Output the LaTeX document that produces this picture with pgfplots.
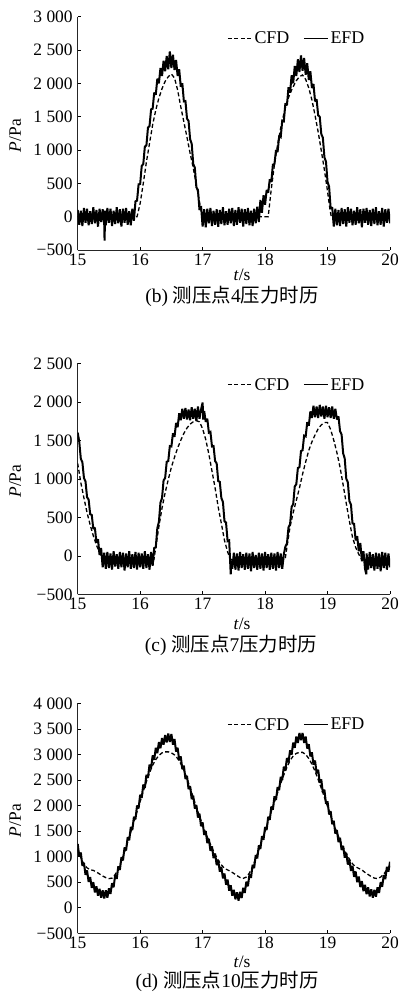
\documentclass[border=0pt]{standalone}
\usepackage{fontspec}
\setmainfont{Liberation Serif}
\newfontfamily\cjk{Noto Sans CJK SC}
\usepackage{pgfplots}
\pgfplotsset{compat=1.18}
\newcommand\ts{\kern0.25em}
\pgfplotsset{
  panel/.style={
    scale only axis, width=312.3bp,
    axis lines*=left,
    xmin=15, xmax=20,
    xtick={15,16,17,18,19,20},
    tick align=inside,
    major tick length=3bp,
    tick style={black, line width=0.5bp},
    axis line style={line width=0.7bp, black!85},
    tick label style={font=\fontsize{17.5}{19}\selectfont},
    yticklabel style={xshift=-1.5bp},
    label style={font=\fontsize{17.5}{19}\selectfont},
    /pgf/number format/assume math mode=true,
    legend style={draw=none, fill=none, font=\fontsize{18}{19}\selectfont,
      legend columns=2, inner sep=0pt,
      /tikz/every even column/.append style={column sep=12bp},
      at={(0.925,0.945)}, anchor=north east},
    legend image code/.code={\draw[##1, line width=1.1bp] (0bp,0bp) -- (24bp,0bp);},
    xlabel={\textit{t}/s},
    ylabel={\textit{P}/Pa},
    ylabel style={at={(axis description cs:-0.2,0.49)}, anchor=center},
  },
  cfd/.style={black, line width=1.3bp, dash pattern=on 4bp off 2.5bp},
  efd/.style={black, line width=2.0bp, line join=miter, miter limit=2},
}
\begin{document}
\begin{tikzpicture}
\useasboundingbox (0bp,0bp) rectangle (401bp,998bp);
\begin{pgfinterruptboundingbox}
% ---------------- (b) ----------------
\begin{axis}[panel, at={(77.7bp,748bp)}, anchor=south west, height=233.3bp,
  ymin=-500, ymax=3000, ytick={-500,0,500,1000,1500,2000,2500,3000},
  yticklabels={−500,0,500,1\ts000,1\ts500,2\ts000,2\ts500,3\ts000},
  xlabel style={at={(axis description cs:0.526,-0.107)}, anchor=center}]
\addplot[cfd] coordinates {(15,0)(15.95,0)(16.0,200)(16.05,500)(16.1,820)(16.15,1100)(16.2,1380)(16.25,1600)(16.3,1780)(16.35,1920)(16.4,2030)(16.45,2100)(16.5,2140)(16.55,2080)(16.6,1900)(16.65,1650)(16.7,1420)(16.75,1190)(16.8,950)(16.85,730)(16.9,480)(16.95,220)(17.0,0)(18.05,0)(18.1,420)(18.15,780)(18.2,1080)(18.25,1330)(18.3,1540)(18.35,1720)(18.4,1850)(18.45,1950)(18.5,2040)(18.55,2100)(18.6,2125)(18.65,2060)(18.7,1930)(18.75,1750)(18.8,1520)(18.85,1270)(18.9,990)(18.95,700)(19.0,380)(19.04,100)(19.06,0)(20,0)};
\addlegendentry{CFD}
\addplot[efd] coordinates {(15.000,100)(15.025,-120)(15.050,90)(15.075,-140)(15.100,130)(15.125,-90)(15.150,120)(15.175,-130)(15.200,80)(15.225,-110)(15.250,140)(15.275,-100)(15.300,100)(15.325,-150)(15.350,120)(15.375,-80)(15.400,110)(15.425,-120)(15.430,-360)(15.440,90)(15.450,-130)(15.475,130)(15.500,-90)(15.525,120)(15.550,-140)(15.575,90)(15.600,-110)(15.625,140)(15.650,-100)(15.675,110)(15.700,-150)(15.725,120)(15.750,-90)(15.775,130)(15.800,-120)(15.825,80)(15.850,-130)(15.875,120)(15.900,-60)(15.925,230)(15.950,240)(15.975,485)(16.000,490)(16.025,760)(16.050,790)(16.075,1050)(16.100,1070)(16.125,1335)(16.150,1360)(16.175,1610)(16.200,1620)(16.225,1860)(16.250,1830)(16.275,2070)(16.300,2000)(16.325,2230)(16.350,2110)(16.375,2340)(16.400,2180)(16.425,2410)(16.450,2210)(16.475,2480)(16.500,2230)(16.525,2430)(16.550,2200)(16.575,2350)(16.600,2110)(16.625,2210)(16.650,1950)(16.675,2000)(16.700,1730)(16.725,1735)(16.750,1470)(16.775,1435)(16.800,1160)(16.825,1095)(16.850,790)(16.875,735)(16.900,440)(16.925,400)(16.950,100)(16.975,160)(17.000,-150)(17.025,110)(17.050,-160)(17.075,120)(17.100,-100)(17.125,130)(17.150,-140)(17.175,90)(17.200,-120)(17.225,110)(17.250,-150)(17.275,100)(17.300,-110)(17.325,140)(17.350,-130)(17.375,80)(17.400,-120)(17.425,120)(17.450,-100)(17.475,130)(17.500,-140)(17.525,100)(17.550,-120)(17.575,140)(17.600,-90)(17.625,120)(17.650,-150)(17.675,110)(17.700,-110)(17.725,130)(17.750,-130)(17.775,90)(17.800,-140)(17.825,120)(17.850,-100)(17.875,150)(17.900,-80)(17.925,250)(17.950,60)(17.975,320)(18.000,180)(18.025,400)(18.050,360)(18.075,560)(18.100,520)(18.125,780)(18.150,790)(18.175,1000)(18.200,970)(18.225,1200)(18.250,1190)(18.275,1440)(18.300,1430)(18.325,1700)(18.350,1670)(18.375,1940)(18.400,1860)(18.425,2120)(18.450,2000)(18.475,2260)(18.500,2110)(18.525,2360)(18.550,2170)(18.575,2420)(18.600,2190)(18.625,2380)(18.650,2130)(18.675,2300)(18.700,2050)(18.725,2180)(18.750,1930)(18.775,1990)(18.800,1730)(18.825,1760)(18.850,1520)(18.875,1500)(18.900,1240)(18.925,1185)(18.950,890)(18.975,825)(19.000,520)(19.025,450)(19.050,120)(19.075,140)(19.100,-150)(19.125,120)(19.150,-130)(19.175,100)(19.200,-140)(19.225,130)(19.250,-110)(19.275,110)(19.300,-150)(19.325,140)(19.350,-90)(19.375,120)(19.400,-130)(19.425,90)(19.450,-120)(19.475,140)(19.500,-100)(19.525,110)(19.550,-160)(19.575,120)(19.600,-90)(19.625,130)(19.650,-120)(19.675,100)(19.700,-140)(19.725,120)(19.750,-110)(19.775,140)(19.800,-130)(19.825,80)(19.850,-120)(19.875,130)(19.900,-150)(19.925,110)(19.950,-90)(19.975,120)(20.000,-100)};
\addlegendentry{EFD}
\end{axis}
\node[font=\fontsize{19.5}{21}\selectfont] at (232bp,701.3bp) {(b) {\cjk 测压点}4{\cjk 压力时历}};
% ---------------- (c) ----------------
\begin{axis}[panel, at={(77.7bp,403.7bp)}, anchor=south west, height=231bp,
  ymin=-500, ymax=2500, ytick={-500,0,500,1000,1500,2000,2500},
  yticklabels={−500,0,500,1\ts000,1\ts500,2\ts000,2\ts500},
  xlabel style={at={(axis description cs:0.526,-0.13)}, anchor=center}]
\addplot[cfd] coordinates {(15,1200)(15.05,950)(15.1,750)(15.15,560)(15.2,400)(15.25,260)(15.3,140)(15.35,40)(15.4,-50)(16.22,-50)(16.3,380)(16.35,620)(16.4,820)(16.45,990)(16.5,1150)(16.55,1280)(16.6,1400)(16.65,1500)(16.7,1590)(16.75,1660)(16.8,1710)(16.85,1740)(16.9,1755)(16.95,1740)(17.0,1650)(17.05,1510)(17.1,1320)(17.15,1100)(17.2,880)(17.25,630)(17.3,420)(17.35,200)(17.4,50)(17.45,-50)(18.32,-50)(18.4,380)(18.45,560)(18.5,720)(18.55,880)(18.6,1060)(18.65,1220)(18.7,1370)(18.75,1480)(18.8,1570)(18.85,1650)(18.9,1700)(18.95,1730)(19.0,1730)(19.05,1640)(19.1,1500)(19.15,1340)(19.2,1150)(19.25,920)(19.3,680)(19.35,450)(19.4,240)(19.45,110)(19.5,20)(19.55,-50)(20,-50)};
\addlegendentry{CFD}
\addplot[efd] coordinates {(15.000,1600)(15.025,1480)(15.050,1260)(15.075,1215)(15.100,1010)(15.125,965)(15.150,760)(15.175,730)(15.200,540)(15.225,530)(15.250,350)(15.275,365)(15.300,170)(15.325,215)(15.350,10)(15.375,100)(15.400,-150)(15.425,40)(15.450,-170)(15.475,50)(15.500,-160)(15.525,30)(15.550,-180)(15.575,60)(15.600,-140)(15.625,20)(15.650,-170)(15.675,50)(15.700,-150)(15.725,40)(15.750,-190)(15.775,30)(15.800,-150)(15.825,60)(15.850,-170)(15.875,20)(15.900,-160)(15.925,50)(15.950,-180)(15.975,40)(16.000,-150)(16.025,30)(16.050,-170)(16.075,60)(16.100,-160)(16.125,20)(16.150,-180)(16.175,50)(16.200,-130)(16.225,100)(16.250,110)(16.275,360)(16.300,440)(16.325,690)(16.350,750)(16.375,980)(16.400,1010)(16.425,1220)(16.450,1230)(16.475,1425)(16.500,1420)(16.525,1590)(16.550,1545)(16.575,1725)(16.600,1670)(16.625,1850)(16.650,1760)(16.675,1910)(16.700,1780)(16.725,1920)(16.750,1770)(16.775,1900)(16.800,1760)(16.825,1930)(16.850,1780)(16.875,1910)(16.900,1750)(16.925,1940)(16.950,1780)(16.975,1900)(17.000,1990)(17.010,1770)(17.025,1880)(17.050,1740)(17.075,1780)(17.100,1600)(17.125,1610)(17.150,1420)(17.175,1425)(17.200,1230)(17.225,1200)(17.250,970)(17.275,960)(17.300,750)(17.325,700)(17.350,450)(17.375,430)(17.400,190)(17.425,200)(17.450,-240)(17.460,-60)(17.475,-170)(17.500,40)(17.525,-180)(17.550,30)(17.575,-190)(17.600,50)(17.625,-160)(17.650,20)(17.675,-180)(17.700,40)(17.725,-170)(17.750,30)(17.775,-200)(17.800,50)(17.825,-160)(17.850,10)(17.875,-180)(17.900,40)(17.925,-170)(17.950,30)(17.975,-190)(18.000,50)(18.025,-160)(18.050,20)(18.075,-180)(18.100,40)(18.125,-170)(18.150,30)(18.175,-190)(18.200,50)(18.225,-160)(18.250,30)(18.275,-170)(18.300,20)(18.325,120)(18.350,160)(18.375,370)(18.400,410)(18.425,635)(18.450,670)(18.475,900)(18.500,930)(18.525,1140)(18.550,1150)(18.575,1360)(18.600,1370)(18.625,1560)(18.650,1550)(18.675,1735)(18.700,1690)(18.725,1875)(18.750,1790)(18.775,1950)(18.800,1800)(18.825,1940)(18.850,1790)(18.875,1960)(18.900,1810)(18.925,1940)(18.950,1780)(18.975,1950)(19.000,1800)(19.025,1930)(19.050,1790)(19.075,1940)(19.100,1780)(19.125,1910)(19.150,1770)(19.175,1810)(19.200,1620)(19.225,1575)(19.250,1330)(19.275,1265)(19.300,1000)(19.325,955)(19.350,710)(19.375,665)(19.400,420)(19.425,415)(19.450,200)(19.475,255)(19.500,60)(19.525,165)(19.550,-70)(19.575,60)(19.600,-170)(19.620,-240)(19.625,30)(19.650,-180)(19.675,50)(19.700,-160)(19.725,20)(19.750,-190)(19.775,40)(19.800,-170)(19.825,30)(19.850,-200)(19.875,50)(19.900,-160)(19.925,40)(19.950,-180)(19.975,30)(20.000,-150)};
\addlegendentry{EFD}
\end{axis}
\node[font=\fontsize{19.5}{21}\selectfont] at (231bp,353bp) {(c) {\cjk 测压点}7{\cjk 压力时历}};
% ---------------- (d) ----------------
\begin{axis}[panel, at={(77.7bp,64.7bp)}, anchor=south west, height=230bp,
  ymin=-500, ymax=4000, ytick={-500,0,500,1000,1500,2000,2500,3000,3500,4000},
  yticklabels={−500,0,500,1\ts000,1\ts500,2\ts000,2\ts500,3\ts000,3\ts500,4\ts000},
  xlabel style={at={(axis description cs:0.526,-0.122)}, anchor=center}]
\addplot[cfd] coordinates {(15.0,1150)(15.05,980)(15.1,850)(15.15,780)(15.2,745)(15.25,730)(15.3,700)(15.35,660)(15.4,620)(15.45,590)(15.5,570)(15.55,580)(15.6,650)(15.65,760)(15.7,910)(15.75,1090)(15.8,1280)(15.85,1480)(15.9,1680)(15.95,1880)(16.0,2080)(16.05,2280)(16.1,2470)(16.15,2640)(16.2,2790)(16.25,2900)(16.3,2980)(16.35,3030)(16.4,3050)(16.45,3050)(16.5,3030)(16.55,2990)(16.6,2920)(16.65,2820)(16.7,2690)(16.75,2530)(16.8,2350)(16.85,2160)(16.9,1970)(16.95,1790)(17.0,1620)(17.05,1460)(17.1,1310)(17.15,1170)(17.2,1040)(17.25,930)(17.3,840)(17.35,770)(17.4,740)(17.45,710)(17.5,670)(17.55,630)(17.6,590)(17.65,575)(17.7,600)(17.75,680)(17.8,800)(17.85,960)(17.9,1140)(17.95,1320)(18.0,1500)(18.05,1690)(18.1,1880)(18.15,2070)(18.2,2250)(18.25,2430)(18.3,2600)(18.35,2750)(18.4,2880)(18.45,2970)(18.5,3020)(18.55,3040)(18.6,3040)(18.65,3000)(18.7,2920)(18.75,2810)(18.8,2670)(18.85,2510)(18.9,2340)(18.95,2160)(19.0,1980)(19.05,1800)(19.1,1630)(19.15,1470)(19.2,1320)(19.25,1180)(19.3,1060)(19.35,950)(19.4,860)(19.45,800)(19.5,770)(19.55,740)(19.6,690)(19.65,650)(19.7,610)(19.75,580)(19.8,570)(19.85,600)(19.9,660)(19.95,740)(20.0,820)};
\addlegendentry{CFD}
\addplot[efd] coordinates {(15.000,1250)(15.025,1000)(15.050,1080)(15.075,820)(15.100,880)(15.125,645)(15.150,730)(15.175,505)(15.200,600)(15.225,390)(15.250,500)(15.275,300)(15.300,420)(15.325,235)(15.350,370)(15.375,195)(15.400,340)(15.425,180)(15.450,340)(15.475,195)(15.500,380)(15.525,270)(15.550,480)(15.575,400)(15.600,640)(15.625,565)(15.650,810)(15.675,740)(15.700,990)(15.725,925)(15.750,1180)(15.775,1120)(15.800,1380)(15.825,1320)(15.850,1580)(15.875,1520)(15.900,1780)(15.925,1730)(15.950,2000)(15.975,1945)(16.000,2210)(16.025,2150)(16.050,2410)(16.075,2345)(16.100,2600)(16.125,2540)(16.150,2800)(16.175,2730)(16.200,2980)(16.225,2895)(16.250,3130)(16.275,3025)(16.300,3240)(16.325,3120)(16.350,3320)(16.375,3190)(16.400,3380)(16.425,3235)(16.450,3410)(16.475,3245)(16.500,3400)(16.525,3190)(16.550,3300)(16.575,3055)(16.600,3130)(16.625,2885)(16.650,2960)(16.675,2710)(16.700,2780)(16.725,2520)(16.750,2580)(16.775,2320)(16.800,2380)(16.825,2125)(16.850,2190)(16.875,1940)(16.900,2010)(16.925,1765)(16.950,1840)(16.975,1595)(17.000,1670)(17.025,1425)(17.050,1500)(17.075,1265)(17.100,1350)(17.125,1115)(17.150,1200)(17.175,970)(17.200,1060)(17.225,835)(17.250,930)(17.275,705)(17.300,800)(17.325,575)(17.350,670)(17.375,450)(17.400,550)(17.425,335)(17.450,440)(17.475,235)(17.500,350)(17.525,165)(17.550,300)(17.575,140)(17.600,310)(17.625,190)(17.650,390)(17.675,290)(17.700,510)(17.725,420)(17.750,650)(17.775,585)(17.800,840)(17.825,775)(17.850,1030)(17.875,965)(17.900,1220)(17.925,1150)(17.950,1400)(17.975,1330)(18.000,1580)(18.025,1520)(18.050,1780)(18.075,1720)(18.100,1980)(18.125,1920)(18.150,2180)(18.175,2110)(18.200,2360)(18.225,2300)(18.250,2560)(18.275,2500)(18.300,2760)(18.325,2685)(18.350,2930)(18.375,2845)(18.400,3080)(18.425,2995)(18.450,3230)(18.475,3130)(18.500,3350)(18.525,3225)(18.550,3420)(18.575,3280)(18.600,3420)(18.625,3225)(18.650,3350)(18.675,3115)(18.700,3200)(18.725,2960)(18.750,3040)(18.775,2800)(18.800,2880)(18.825,2630)(18.850,2700)(18.875,2445)(18.900,2510)(18.925,2250)(18.950,2310)(18.975,2035)(19.000,2080)(19.025,1825)(19.050,1890)(19.075,1635)(19.100,1700)(19.125,1450)(19.150,1520)(19.175,1285)(19.200,1370)(19.225,1130)(19.250,1210)(19.275,980)(19.300,1070)(19.325,845)(19.350,940)(19.375,720)(19.400,820)(19.425,605)(19.450,710)(19.475,500)(19.500,610)(19.525,405)(19.550,520)(19.575,325)(19.600,450)(19.625,265)(19.650,400)(19.675,220)(19.700,360)(19.725,195)(19.750,350)(19.775,215)(19.800,400)(19.825,290)(19.850,500)(19.875,410)(19.900,640)(19.925,560)(19.950,800)(19.975,705)(20.000,900)};
\addlegendentry{EFD}
\end{axis}
\node[font=\fontsize{19.5}{21}\selectfont] at (227bp,16.3bp) {(d) {\cjk 测压点}10{\cjk 压力时历}};
\end{pgfinterruptboundingbox}
\end{tikzpicture}
\end{document}
